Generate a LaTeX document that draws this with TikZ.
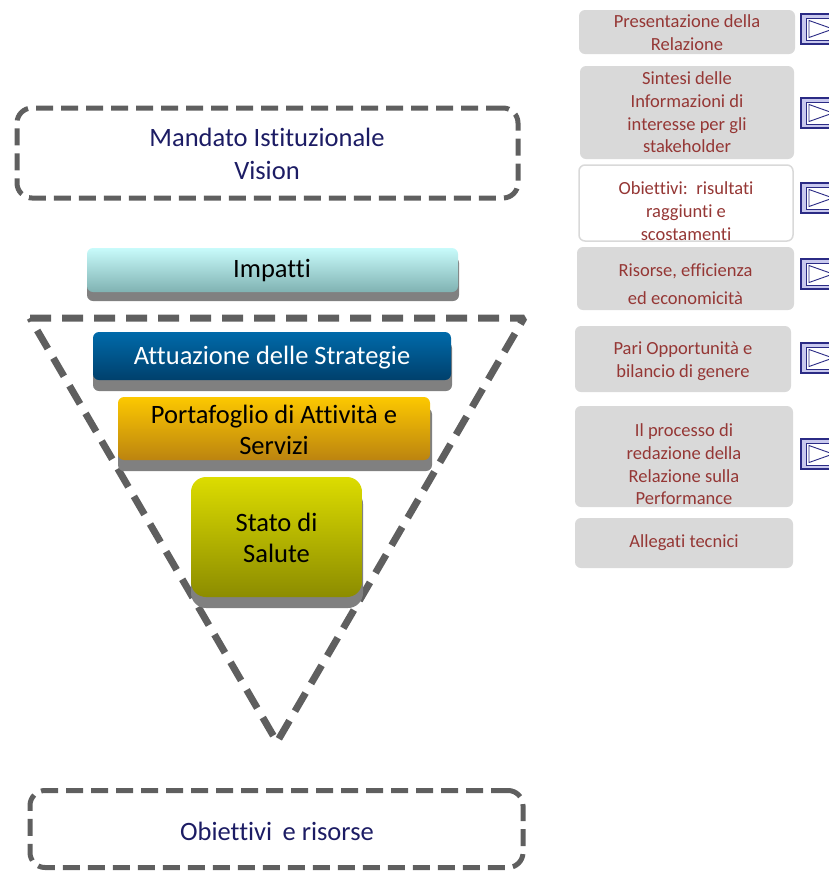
\documentclass[tikz,border=0pt]{standalone}
\usepackage{fontspec}
\setmainfont[Ligatures={NoCommon}]{Carlito}
\definecolor{dgray}{HTML}{5F5F5F}
\definecolor{navytext}{HTML}{1C1C64}
\definecolor{rred}{HTML}{953735}
\definecolor{rgray}{HTML}{D9D9D9}
\definecolor{shadowgray}{HTML}{808080}
\definecolor{btnnavy}{HTML}{2B2B85}
\definecolor{btnfill}{HTML}{C9C9EE}
\newcommand\navbtn[1]{%
  \begin{scope}[shift={(0,#1)}]
    \fill[btnfill] (801,0) rectangle (845,30);
    \draw[btnnavy, line width=1.2pt] (801,0) rectangle (845,30);
    \filldraw[fill=white, draw=btnnavy, line width=0.8pt] (806,4) rectangle (845,26);
    \draw[btnnavy, line width=0.9pt, line join=miter] (809,6.5) -- (809,23.5) -- (833,15) -- cycle;
  \end{scope}}
\begin{document}
\begin{tikzpicture}[x=1pt,y=-1pt,
  dashbox/.style={draw=dgray, line width=5pt, dash pattern=on 17pt off 8pt, rounded corners=15pt, inner sep=0pt},
  bigtext/.style={font=\fontsize{26.5}{31}\selectfont, align=center, inner sep=0pt},
  barbox/.style={rounded corners=6pt, inner sep=0pt},
  rbox/.style={fill=rgray, rounded corners=6pt, inner sep=0pt},
  rtext/.style={text=rred, font=\fontsize{18.5}{22.7}\selectfont, align=center, inner sep=0pt}]
\useasboundingbox (0,0) rectangle (829,871);

% Mandato box
\node[dashbox, minimum width=501pt, minimum height=90pt] (mandato) at (267.5,153) {};
\node[bigtext, text=navytext, font=\fontsize{26.5}{33}\selectfont] (mandatot) at (267,154) {Mandato Istituzionale\\Vision};

% Impatti
\fill[shadowgray, rounded corners=6pt] (87,257) rectangle (459,301);
\node[barbox, top color={rgb,255:red,200;green,251;blue,251}, bottom color={rgb,255:red,128;green,178;blue,178}, minimum width=371pt, minimum height=44pt] (impatti) at (272.5,270) {};
\node[bigtext, text=black] (impattit) at (272,271) {Impatti};

% Triangle
\coordinate (tl) at (30,318);
\coordinate (tr) at (524,318);
\coordinate (tb) at (277,742);
\draw[dgray, line width=7pt, dash pattern=on 21pt off 11pt, line join=bevel] (tl) -- (tr) -- (tb) -- cycle;

% Attuazione
\fill[shadowgray, rounded corners=6pt] (93,342) rectangle (452,391);
\node[barbox, top color={rgb,255:red,0;green,106;blue,170}, bottom color={rgb,255:red,0;green,64;blue,108}, minimum width=358pt, minimum height=48pt] (attuazione) at (272,356) {};
\node[bigtext, text=white] (attuazionet) at (272,358) {Attuazione delle Strategie};

% Portafoglio
\fill[shadowgray, rounded corners=6pt] (118,408) rectangle (432,471);
\node[barbox, top color={rgb,255:red,252;green,200;blue,0}, bottom color={rgb,255:red,188;green,132;blue,16}, minimum width=312pt, minimum height=63pt] (portafoglio) at (274,428.5) {};
\node[bigtext, text=black] (portafogliot) at (274,430) {Portafoglio di Attività e\\Servizi};

% Stato di Salute
\fill[shadowgray, rounded corners=15pt] (191,489) rectangle (363,608);
\node[barbox, rounded corners=15pt, top color={rgb,255:red,220;green,220;blue,0}, bottom color={rgb,255:red,140;green,140;blue,0}, minimum width=171pt, minimum height=120pt] (stato) at (276.5,537) {};
\node[bigtext, text=black] (statot) at (276.5,538) {Stato di\\Salute};

% Obiettivi e risorse
\node[dashbox, minimum width=493pt, minimum height=77pt] (obiettivi) at (276.5,829) {};
\node[bigtext, text=navytext] (obiettivit) at (277,831) {Obiettivi\, e risorse};

% Right column
\node[rbox, minimum width=216pt, minimum height=44pt] (b1) at (687,32) {};
\node[rtext] (t1) at (687,32.5) {Presentazione della\\Relazione};
\node[rbox, minimum width=214pt, minimum height=93pt] (b2) at (687,112.5) {};
\node[rtext] (t2) at (687,112.5) {Sintesi delle\\Informazioni di\\interesse per gli\\stakeholder};
\node[rbox, fill=white, draw=rgray, line width=1.5pt, minimum width=214pt, minimum height=76pt] (b3) at (686,203) {};
\node[rtext] (t3) at (686,211) {Obiettivi:\, risultati\\raggiunti e\\scostamenti};
\node[rbox, minimum width=217pt, minimum height=63pt] (b4) at (685.5,278.5) {};
\node[rtext, font=\fontsize{18.5}{27.5}\selectfont] (t4) at (685.5,284) {Risorse, efficienza\\ed economicità};
\node[rbox, minimum width=216pt, minimum height=66pt] (b5) at (683,359) {};
\node[rtext] (t5) at (683,361) {Pari Opportunità e\\bilancio di genere};
\node[rbox, minimum width=218pt, minimum height=101pt] (b6) at (684,456.5) {};
\node[rtext] (t6) at (684,464.5) {Il processo di\\redazione della\\Relazione sulla\\Performance};
\node[rbox, minimum width=218pt, minimum height=50pt] (b7) at (684,543) {};
\node[rtext] (t7) at (684,543) {Allegati tecnici};

% Buttons
\begin{scope}
\clip (0,0) rectangle (829,871);
\navbtn{14}
\navbtn{98}
\navbtn{183}
\navbtn{259}
\navbtn{343}
\navbtn{439}
\end{scope}
\end{tikzpicture}
\end{document}
